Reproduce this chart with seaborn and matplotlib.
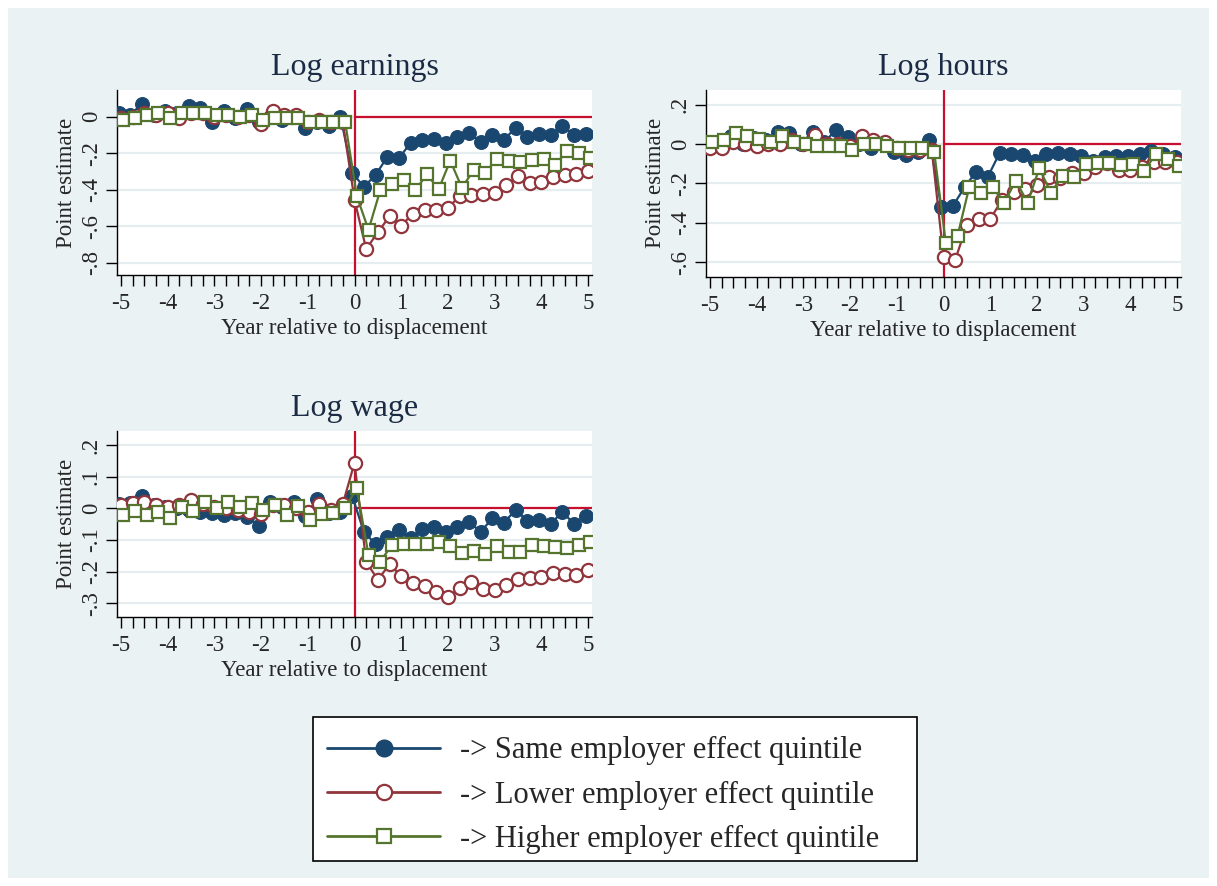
import numpy as np
import seaborn as sns
import matplotlib
import matplotlib.pyplot as plt
from matplotlib.lines import Line2D
from matplotlib.patches import Rectangle
from matplotlib.ticker import FuncFormatter

# event time in quarters, -5 .. 5 years
event_time = np.arange(-20, 21) / 4

earn_same = [0.02, 0.01, 0.07, 0.01, 0.03, 0.02, 0.06, 0.05, -0.03, 0.03,
             -0.01, 0.04, -0.03, 0.00, -0.02, 0.00, -0.06, -0.03, -0.05, 0.00,
             -0.306, -0.385, -0.319, -0.222, -0.228, -0.144, -0.126, -0.124, -0.144, -0.111,
             -0.087, -0.139, -0.102, -0.126, -0.061, -0.111, -0.096, -0.098, -0.052, -0.098, -0.093]
earn_lower = [-0.01, 0.00, 0.02, 0.01, 0.02, -0.01, 0.02, 0.02, 0.00, 0.01,
              0.00, 0.01, -0.04, 0.03, 0.01, 0.01, -0.03, -0.02, -0.03, -0.03,
              -0.455, -0.725, -0.633, -0.546, -0.596, -0.531, -0.509, -0.509, -0.50, -0.435,
              -0.43, -0.426, -0.417, -0.374, -0.324, -0.361, -0.356, -0.333, -0.319, -0.315, -0.30]
earn_higher = [-0.02, -0.01, 0.01, 0.02, -0.01, 0.02, 0.02, 0.02, 0.01, 0.01,
               0.00, 0.01, -0.02, -0.01, -0.01, -0.01, -0.03, -0.03, -0.03, -0.03,
               -0.435, -0.62, -0.404, -0.37, -0.346, -0.404, -0.315, -0.398, -0.241, -0.389,
               -0.293, -0.306, -0.231, -0.241, -0.246, -0.235, -0.231, -0.263, -0.189, -0.20, -0.226]

hours_same = [0.01, 0.00, 0.04, 0.00, 0.03, 0.02, 0.063, 0.054, 0.00, 0.063,
              0.01, 0.071, 0.037, 0.00, -0.02, 0.00, -0.039, -0.056, -0.039, 0.02,
              -0.318, -0.315, -0.22, -0.14, -0.166, -0.047, -0.051, -0.056, -0.085, -0.051,
              -0.047, -0.051, -0.061, -0.085, -0.068, -0.061, -0.061, -0.051, -0.034, -0.051, -0.068]
hours_lower = [-0.02, -0.02, 0.01, 0.00, -0.01, 0.00, 0.00, 0.02, 0.00, 0.046,
               0.00, 0.00, -0.01, 0.04, 0.02, 0.01, -0.02, -0.03, -0.03, -0.03,
               -0.572, -0.589, -0.411, -0.382, -0.382, -0.284, -0.242, -0.23, -0.208, -0.166,
               -0.174, -0.149, -0.149, -0.118, -0.098, -0.132, -0.132, -0.118, -0.09, -0.09, -0.09]
hours_higher = [0.012, 0.02, 0.054, 0.04, 0.024, 0.01, 0.04, 0.01, 0.00, -0.01,
                -0.01, -0.01, -0.03, 0.00, 0.00, -0.01, -0.02, -0.02, -0.02, -0.04,
                -0.504, -0.467, -0.22, -0.247, -0.22, -0.298, -0.186, -0.298, -0.124, -0.247,
                -0.162, -0.166, -0.102, -0.098, -0.098, -0.107, -0.102, -0.135, -0.051, -0.078, -0.112]

wage_same = [0.013, 0.016, 0.04, 0.01, 0.005, 0.00, -0.005, -0.01, -0.015, -0.02,
             -0.015, -0.026, -0.055, 0.021, 0.005, 0.021, -0.023, 0.03, -0.016, -0.01,
             0.039, -0.074, -0.113, -0.092, -0.068, -0.095, -0.066, -0.06, -0.074, -0.058,
             -0.042, -0.074, -0.032, -0.045, -0.005, -0.039, -0.037, -0.049, -0.011, -0.049, -0.023]
wage_lower = [0.012, 0.016, 0.021, 0.012, 0.005, 0.01, 0.027, 0.013, 0.005, 0.00,
              -0.005, -0.01, -0.019, 0.01, 0.01, 0.002, -0.01, 0.013, -0.005, 0.014,
              0.144, -0.168, -0.226, -0.176, -0.214, -0.237, -0.244, -0.263, -0.279, -0.253,
              -0.232, -0.256, -0.258, -0.242, -0.224, -0.221, -0.218, -0.205, -0.207, -0.211, -0.195]
wage_higher = [-0.021, -0.008, -0.021, -0.011, -0.029, 0.005, -0.008, 0.019, 0.00, 0.021,
               0.005, 0.016, -0.005, 0.011, -0.021, 0.008, -0.037, -0.019, -0.016, 0.002,
               0.063, -0.147, -0.168, -0.116, -0.113, -0.113, -0.111, -0.105, -0.119, -0.14,
               -0.134, -0.144, -0.119, -0.137, -0.137, -0.116, -0.119, -0.123, -0.126, -0.116, -0.105]

titles = ["Log earnings", "Log hours", "Log wage"]
series_labels = ["-> Same employer effect quintile",
                 "-> Lower employer effect quintile",
                 "-> Higher employer effect quintile"]
x_ticks = [-5, -4, -3, -2, -1, 0, 1, 2, 3, 4, 5]
y_ticks = [[0, -0.2, -0.4, -0.6, -0.8],
           [0.2, 0, -0.2, -0.4, -0.6],
           [0.2, 0.1, 0, -0.1, -0.2, -0.3]]
y_lims = [(-0.867, 0.146), (-0.674, 0.274), (-0.342, 0.245)]

navy = "#1A476F"
maroon = "#90353B"
green = "#55752F"
ref_red = "#C8102E"
bg = "#EAF2F3"
grid_col = "#E6EDF1"

lw = 1.6
styles = [dict(color=navy, marker="o", markersize=10, markerfacecolor=navy, markeredgecolor=navy),
          dict(color=maroon, marker="o", markersize=9.5, markerfacecolor="white",
               markeredgecolor=maroon, markeredgewidth=1.6),
          dict(color=green, marker="s", markersize=8.5, markerfacecolor="white",
               markeredgecolor=green, markeredgewidth=1.6)]
offsets = [-0.05, 0.0, 0.05]

sns.set_style("white")
matplotlib.rcParams['font.family'] = ["Liberation Serif", "DejaVu Serif"]

fig = plt.figure(figsize=(12.17, 8.86), dpi=100)
fig.patch.set_facecolor("white")
fig.patches.append(Rectangle((8 / 1217, 8 / 886), 1 - 16 / 1217, 1 - 16 / 886,
                             transform=fig.transFigure, facecolor=bg, edgecolor="none", zorder=-10))
# legend box
fig.patches.append(Rectangle((313 / 1217, 1 - 861 / 886), 604 / 1217, 144 / 886,
                             transform=fig.transFigure, facecolor="white", edgecolor="black",
                             linewidth=1.2, zorder=-5))

positions = [[117 / 1217, 1 - 275 / 886, 475 / 1217, 185 / 886],
             [706 / 1217, 1 - 276.7 / 886, 475 / 1217, 186.7 / 886],
             [117 / 1217, 1 - 616.7 / 886, 475 / 1217, 186 / 886]]
panel_data = [[earn_same, earn_lower, earn_higher],
              [hours_same, hours_lower, hours_higher],
              [wage_same, wage_lower, wage_higher]]


def fmt(v, pos):
    s = ("%.1f" % v).rstrip("0").rstrip(".")
    s = s.replace("0.", ".")
    if s in ("-0", ""):
        s = "0"
    return s


for i in range(3):
    ax = fig.add_axes(positions[i])
    ax.set_facecolor("white")
    ax.set_xlim(-5.085, 5.085)
    ax.set_ylim(*y_lims[i])
    for yt in y_ticks[i]:
        ax.axhline(yt, color=grid_col, lw=1.6, zorder=0)
    ax.axvline(0, color=ref_red, lw=1.6, zorder=1)
    ax.plot([0, 5.085], [0, 0], color=ref_red, lw=1.6, zorder=1)

    for k in range(3):
        sns.lineplot(ax=ax, x=event_time + offsets[k], y=panel_data[i][k],
                     linewidth=lw, zorder=3 + k, legend=False, **styles[k])

    ax.set_xticks(event_time, minor=True)
    ax.set_xticks(x_ticks)
    ax.set_xticklabels([str(t) for t in x_ticks])
    ax.set_yticks(y_ticks[i])
    ax.yaxis.set_major_formatter(FuncFormatter(fmt))
    ax.tick_params(axis="x", which="both", direction="out", length=8, width=1, color="black",
                   labelsize=16.5, pad=5, bottom=True)
    ax.tick_params(axis="y", direction="out", length=8, width=1, color="black",
                   labelsize=16.5, pad=3, left=True, labelrotation=90)
    for lab in ax.get_yticklabels():
        lab.set_va("center")
    for side in ["top", "right"]:
        ax.spines[side].set_visible(False)
    for side in ["left", "bottom"]:
        ax.spines[side].set_color("black")
        ax.spines[side].set_linewidth(1)
    ax.set_xlabel("Year relative to displacement", fontsize=16.5, labelpad=3)
    ax.set_ylabel("Point estimate", fontsize=16.5, labelpad=3)
    ax.text(0.5, 1.12, titles[i], transform=ax.transAxes, ha="center", va="center",
            fontsize=23, color="#1C2B45")

handles = [Line2D([0], [0], linewidth=2, **styles[k]) for k in range(3)]
handles[0].set_markersize(12)
handles[1].set_markersize(11)
handles[2].set_markersize(10)
leg = fig.legend(handles, series_labels, loc="center left", bbox_to_anchor=(327 / 1217, 1 - 795 / 886),
                 fontsize=22, frameon=False, handlelength=3.7, handletextpad=0.65,
                 labelspacing=0.5, borderpad=0, borderaxespad=0)

plt.savefig("out.png", dpi=100, facecolor=fig.get_facecolor())
plt.close("all")
